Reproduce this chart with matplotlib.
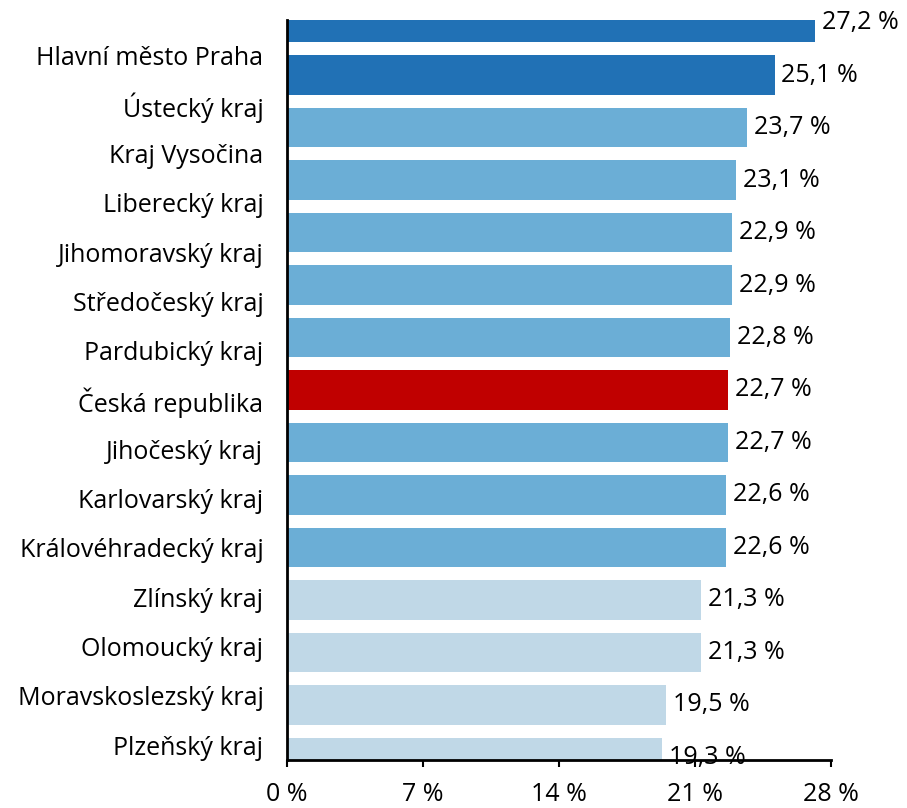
import numpy as np
import matplotlib.pyplot as plt

# data, top to bottom as in the chart
regions = [
    "Hlavní město Praha", "Ústecký kraj", "Kraj Vysočina", "Liberecký kraj",
    "Jihomoravský kraj", "Středočeský kraj", "Pardubický kraj",
    "Česká republika", "Jihočeský kraj", "Karlovarský kraj",
    "Královéhradecký kraj", "Zlínský kraj", "Olomoucký kraj",
    "Moravskoslezský kraj", "Plzeňský kraj",
]
values = [27.2, 25.1, 23.7, 23.1, 22.9, 22.9, 22.8, 22.7, 22.7, 22.6,
          22.6, 21.3, 21.3, 19.5, 19.3]
groups = ["high", "high", "mid", "mid", "mid", "mid", "mid", "cz", "mid",
          "mid", "mid", "low", "low", "low", "low"]
xticks = [0, 7, 14, 21, 28]

COLORS = {"high": "#2171b5", "mid": "#6baed6", "cz": "#c00000",
          "low": "#c0d8e7"}
FS = 18

plt.rcParams["font.family"] = ["Open Sans", "DejaVu Sans"]

fig = plt.figure(figsize=(9.07, 8.08), dpi=100)
ax = fig.add_axes([287 / 907, 1 - 760 / 808, (831 - 287) / 907, 740 / 808])

pos = np.arange(len(regions))
bars = ax.barh(pos, values, height=0.76,
               color=[COLORS[g] for g in groups], zorder=1)

ax.set_xlim(0, 28)
ax.set_ylim(14.048, -0.048)

# category labels are spread evenly along the axis (Excel style),
# not aligned with the bar centres
label_pos = (55 + 49.3 * pos - 22.5) / 52.5
ax.set_yticks(label_pos)
ax.set_yticklabels(regions, fontsize=FS)
ax.tick_params(axis="y", length=0, pad=17)

ax.set_xticks(xticks)
ax.set_xticklabels([f"{t} %" for t in xticks], fontsize=FS)
ax.tick_params(axis="x", direction="out", length=5, width=1.5, pad=10.5)

for s in ["top", "right"]:
    ax.spines[s].set_visible(False)
for s in ["left", "bottom"]:
    ax.spines[s].set_linewidth(2)
    ax.spines[s].set_color("black")
    ax.spines[s].set_zorder(2)

for b, v in zip(bars, values):
    ax.text(v + 0.35, b.get_y() + b.get_height() / 2,
            f"{v:.1f} %".replace(".", ","), va="center", ha="left",
            fontsize=FS, clip_on=False, zorder=3)

fig.savefig("out.png", dpi=100)
